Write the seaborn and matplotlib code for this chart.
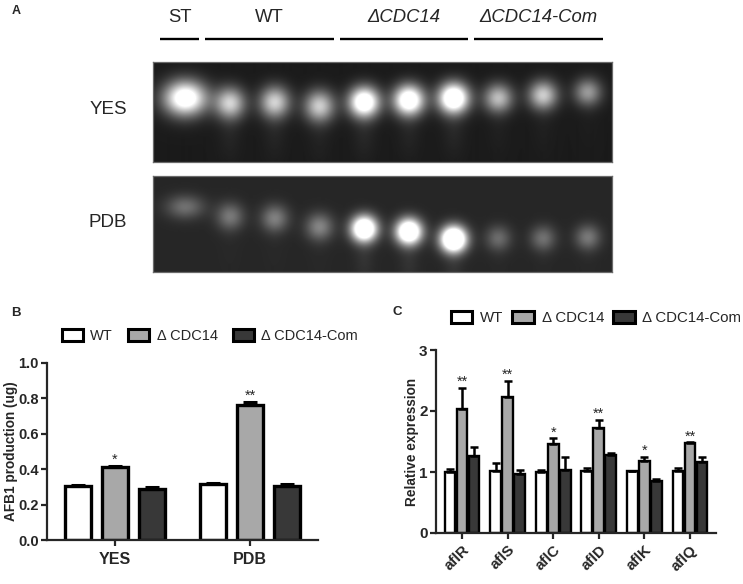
import numpy as np
import pandas as pd
import matplotlib
matplotlib.use("Agg")
import matplotlib.pyplot as plt
import seaborn as sns
from matplotlib.patches import Patch
from matplotlib.transforms import blended_transform_factory

# ---------------- data ----------------
strains = ["WT", "ΔCDC14", "ΔCDC14-Com"]
legend_labels = ["WT", "Δ CDC14", "Δ CDC14-Com"]
strain_colors = ["#ffffff", "#a8a8a8", "#383838"]

# Panel A : TLC plate (lane groups, spot migration, spot brightness, spot size)
lane_group_names = ["ST", "WT", "ΔCDC14", "ΔCDC14-Com"]
lane_group_first = [0, 1, 4, 7]
lane_group_last = [0, 3, 6, 9]
media = ["YES", "PDB"]
yes_rf = [0.64, 0.59, 0.60, 0.56, 0.60, 0.62, 0.64, 0.64, 0.67, 0.70]
pdb_rf = [0.68, 0.58, 0.56, 0.47, 0.45, 0.42, 0.34, 0.35, 0.35, 0.36]
yes_peak = [1.22, 0.82, 0.82, 0.80, 1.30, 1.30, 1.40, 0.74, 0.80, 0.60]
pdb_peak = [0.44, 0.47, 0.50, 0.52, 1.55, 1.55, 1.75, 0.42, 0.44, 0.47]
yes_size = [0.33, 0.235, 0.235, 0.235, 0.235, 0.235, 0.235, 0.225, 0.225, 0.215]
pdb_size = [0.30, 0.215, 0.215, 0.215, 0.20, 0.20, 0.20, 0.20, 0.20, 0.20]
yes_aspect = [0.82, 1.05, 1.05, 1.05, 1.0, 1.0, 1.0, 1.0, 1.0, 1.0]
pdb_aspect = [0.62, 1.0, 1.0, 1.0, 1.0, 1.0, 1.0, 1.0, 1.0, 1.0]
yes_tail = [0.00, 0.04, 0.04, 0.03, 0.05, 0.04, 0.05, 0.02, 0.02, 0.01]
pdb_tail = [0.00, 0.01, 0.01, 0.01, 0.05, 0.05, 0.05, 0.01, 0.01, 0.01]

# Panel B : AFB1 production
conditions_b = ["YES", "PDB"]
afb1_wt = [0.306, 0.314]
afb1_cdc = [0.410, 0.761]
afb1_com = [0.288, 0.306]
afb1_wt_err = [0.006, 0.009]
afb1_cdc_err = [0.007, 0.019]
afb1_com_err = [0.011, 0.010]
stars_b = ["*", "**"]

# Panel C : relative expression
genes = ["aflR", "aflS", "aflC", "aflD", "aflK", "aflQ"]
expr_wt = [1.00, 1.02, 1.00, 1.01, 1.01, 1.01]
expr_cdc = [2.04, 2.23, 1.46, 1.72, 1.18, 1.475]
expr_com = [1.27, 0.97, 1.04, 1.28, 0.86, 1.17]
expr_wt_err = [0.05, 0.13, 0.04, 0.06, 0.01, 0.06]
expr_cdc_err = [0.34, 0.27, 0.09, 0.13, 0.07, 0.01]
expr_com_err = [0.14, 0.07, 0.21, 0.03, 0.02, 0.08]
stars_c = ["**", "**", "*", "**", "*", "**"]

# ---------------- style ----------------
sns.set_style("ticks")
plt.rcParams["font.family"] = ["Liberation Sans", "DejaVu Sans"]
plt.rcParams["axes.linewidth"] = 1.6

W, H = 743, 584
fig = plt.figure(figsize=(W / 100, H / 100), dpi=100)


def px_axes(l, t, r, b):
    return fig.add_axes([l / W, 1 - b / H, (r - l) / W, (b - t) / H])


# ---------------- Panel A ----------------
fig.text(16 / W, 1 - 11 / H, "A", fontsize=9, fontweight="bold", ha="center", va="center")

xlim_a = (-0.714, 9.53)
plates = [
    (px_axes(153, 62, 612, 162), yes_rf, yes_peak, yes_size, yes_aspect, yes_tail, 0.105, 0.448, 100),
    (px_axes(153, 176, 612, 272), pdb_rf, pdb_peak, pdb_size, pdb_aspect, pdb_tail, 0.15, 0.467, 96),
]
for (axp, rf, peak, size, aspect, tail, bg, ratio, hpx), medium in zip(plates, media):
    xs = np.linspace(xlim_a[0], xlim_a[1], 460)
    ys = np.linspace(0, 1, hpx)
    X, Y = np.meshgrid(xs, ys)
    img = np.full(X.shape, bg)
    for lane in range(len(rf)):
        sx = size[lane]
        sy = size[lane] * ratio * aspect[lane]
        g = np.exp(-0.5 * ((X - lane) / sx) ** 2 - 0.5 * ((Y - rf[lane]) / sy) ** 2)
        img = img + (peak[lane] - bg) * g
        gt = np.exp(-0.5 * ((X - lane) / (sx * 0.8)) ** 2 - 0.5 * ((Y - rf[lane] + 0.3) / 0.2) ** 2)
        img = img + tail[lane] * gt
    img = np.clip(img, 0, 1)
    axp.imshow(img, cmap="gray", vmin=0, vmax=1, origin="lower", aspect="auto",
               extent=(xlim_a[0], xlim_a[1], 0, 1), interpolation="bilinear")
    axp.set_xlim(*xlim_a)
    axp.set_ylim(0, 1)
    axp.set_xticks([])
    axp.set_yticks([])
    for s in axp.spines.values():
        s.set_color("#6a6a6a")
        s.set_linewidth(0.9)
    tr = blended_transform_factory(axp.transData, axp.transAxes)
    axp.text(-1.72, 0.52, medium, transform=tr, fontsize=13.5, ha="center", va="center")

ax_top = plates[0][0]
tr_top = blended_transform_factory(ax_top.transData, ax_top.transAxes)
for name, f, l in zip(lane_group_names, lane_group_first, lane_group_last):
    x0, x1 = f - 0.55, l + 0.32
    ax_top.plot([x0, x1], [1.23, 1.23], color="black", lw=1.7, transform=tr_top, clip_on=False,
                solid_capstyle="butt")
    style = "italic" if name.startswith("Δ") else "normal"
    ax_top.text((x0 + x1) / 2, 1.44, name, transform=tr_top, fontsize=13.3, style=style,
                ha="center", va="center")

handles = [Patch(facecolor=c, edgecolor="black", linewidth=2.2) for c in strain_colors]

# ---------------- Panel B ----------------
fig.text(16 / W, 1 - 313 / H, "B", fontsize=9.5, fontweight="bold", ha="center", va="center")
ax_b = px_axes(47, 363, 318, 540)
df_b = pd.DataFrame({
    "condition": conditions_b * 3,
    "strain": [s for s in strains for _ in conditions_b],
    "value": afb1_wt + afb1_cdc + afb1_com,
})
sns.barplot(data=df_b, x="condition", y="value", hue="strain", order=conditions_b,
            hue_order=strains, palette=strain_colors, saturation=1, edgecolor="black",
            linewidth=2.4, width=0.82, gap=0.3, errorbar=None, legend=False, ax=ax_b)
for cont, errs in zip(ax_b.containers, [afb1_wt_err, afb1_cdc_err, afb1_com_err]):
    xs = [p.get_x() + p.get_width() / 2 for p in cont]
    hs = [p.get_height() for p in cont]
    ax_b.errorbar(xs, hs, yerr=[np.zeros(len(errs)), errs], fmt="none", ecolor="black",
                  elinewidth=2.2, capsize=5, capthick=2.2, zorder=3)
cont = ax_b.containers[1]
for p, e, st in zip(cont, afb1_cdc_err, stars_b):
    ax_b.annotate(st, (p.get_x() + p.get_width() / 2, p.get_height() + e), xytext=(0, 1.5),
                  textcoords="offset points", ha="center", va="baseline", fontsize=10.5)
ax_b.set_xlim(-0.5, 1.5)
ax_b.set_ylim(0, 1.0)
ax_b.set_yticks(np.arange(0, 1.01, 0.2))
ax_b.set_yticklabels([f"{v:.1f}" for v in np.arange(0, 1.01, 0.2)])
sns.despine(ax=ax_b)
ax_b.tick_params(width=1.6, length=4, labelsize=10.5, pad=2)
ax_b.tick_params(axis="x", labelsize=11.5, pad=5)
plt.setp(ax_b.get_yticklabels(), fontweight="bold")
plt.setp(ax_b.get_xticklabels(), fontweight="bold")
ax_b.set_xlabel("")
ax_b.set_ylabel("AFB1 production (ug)", fontsize=9.8, fontweight="bold")
ax_b.yaxis.set_label_coords(-0.108, 0.5)
ax_b.legend(handles, legend_labels, ncol=3, loc="center", bbox_to_anchor=(210 / W, 1 - 336 / H),
            bbox_transform=fig.transFigure, frameon=False, fontsize=10.5, handlelength=1.45,
            handleheight=0.85, handletextpad=0.5, columnspacing=1.05)

# ---------------- Panel C ----------------
fig.text(397 / W, 1 - 312 / H, "C", fontsize=9.5, fontweight="bold", ha="center", va="center")
ax_c = px_axes(436, 350, 716, 533)
df_c = pd.DataFrame({
    "gene": genes * 3,
    "strain": [s for s in strains for _ in genes],
    "value": expr_wt + expr_cdc + expr_com,
})
sns.barplot(data=df_c, x="gene", y="value", hue="strain", order=genes, hue_order=strains,
            palette=strain_colors, saturation=1, edgecolor="black", linewidth=1.7,
            width=0.79, gap=0.1, errorbar=None, legend=False, ax=ax_c)
for cont, errs in zip(ax_c.containers, [expr_wt_err, expr_cdc_err, expr_com_err]):
    xs = [p.get_x() + p.get_width() / 2 for p in cont]
    hs = [p.get_height() for p in cont]
    ax_c.errorbar(xs, hs, yerr=[np.zeros(len(errs)), errs], fmt="none", ecolor="black",
                  elinewidth=1.8, capsize=2.6, capthick=1.8, zorder=3)
cont = ax_c.containers[1]
for p, e, st in zip(cont, expr_cdc_err, stars_c):
    ax_c.annotate(st, (p.get_x() + p.get_width() / 2, p.get_height() + e), xytext=(0, 1.5),
                  textcoords="offset points", ha="center", va="baseline", fontsize=10.5)
ax_c.set_xlim(-0.57, 5.57)
ax_c.set_ylim(0, 3)
ax_c.set_yticks([0, 1, 2, 3])
sns.despine(ax=ax_c)
ax_c.tick_params(width=1.6, length=4, labelsize=11, pad=2)
ax_c.tick_params(axis="x", labelsize=11, pad=3)
plt.setp(ax_c.get_yticklabels(), fontweight="bold")
plt.setp(ax_c.get_xticklabels(), fontweight="bold", rotation=45, ha="right",
         rotation_mode="anchor")
ax_c.set_xlabel("")
ax_c.set_ylabel("Relative expression", fontsize=9.8, fontweight="bold")
ax_c.yaxis.set_label_coords(-0.062, 0.5)
ax_c.legend(handles, legend_labels, ncol=3, loc="center", bbox_to_anchor=(596 / W, 1 - 318 / H),
            bbox_transform=fig.transFigure, frameon=False, fontsize=10.8, handlelength=1.45,
            handleheight=0.85, handletextpad=0.5, columnspacing=0.6)

fig.savefig("out.png", dpi=100)
